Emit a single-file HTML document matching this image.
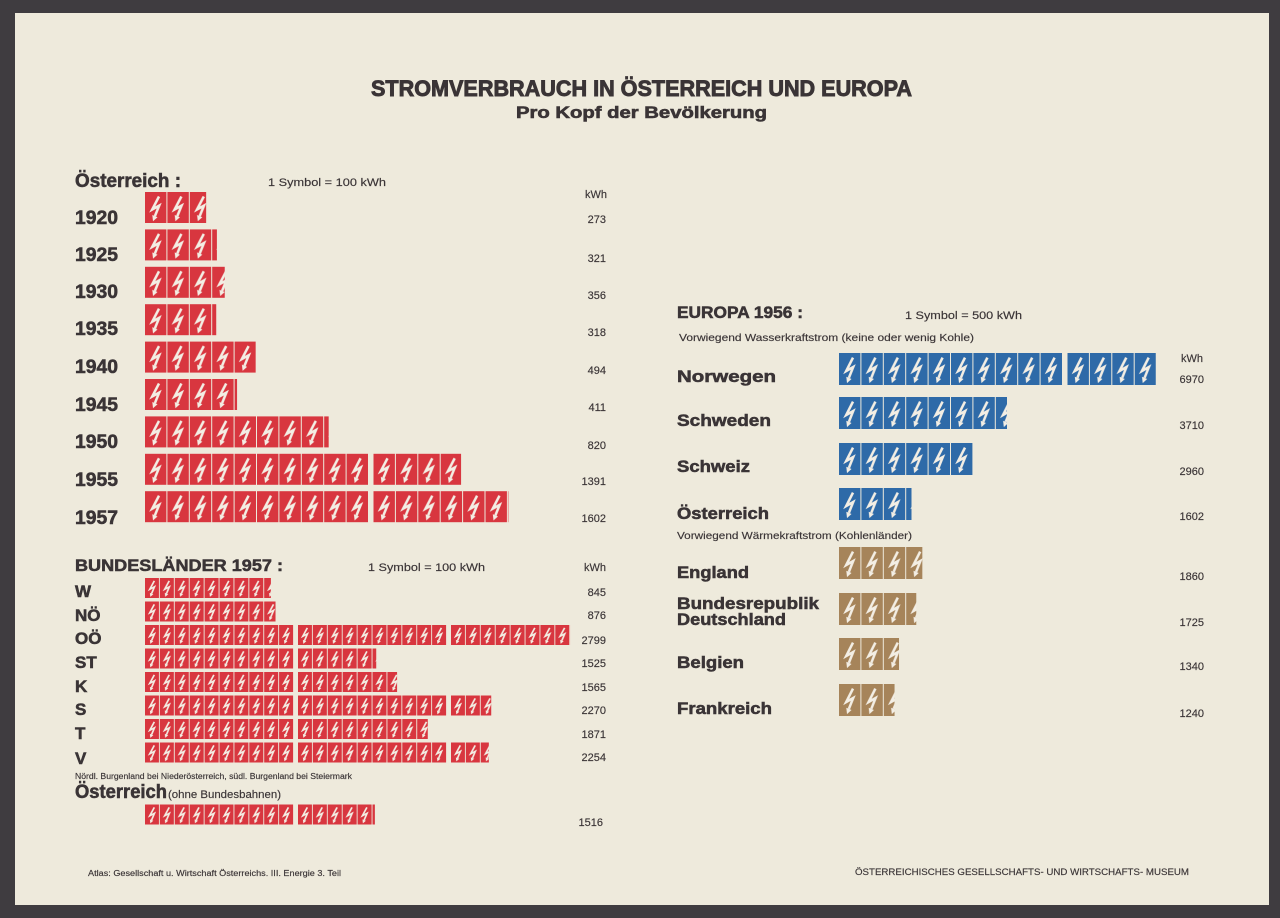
<!DOCTYPE html>
<html>
<head>
<meta charset="utf-8">
<style>
  html,body{margin:0;padding:0;background:#3f3c40;}
  svg{display:block;}
  text{font-family:"Liberation Sans",Arial,sans-serif;fill:#3a3436;}
  .b{font-weight:bold;stroke:#3a3436;stroke-width:0.55;}
  .n{stroke:#3a3436;stroke-width:0.15;}
</style>
</head>
<body>
<svg width="1280" height="918" viewBox="0 0 1280 918" xmlns="http://www.w3.org/2000/svg">
  <defs>
    <g id="bolt">
      <path d="M14,4.5 L7.2,17.5 L14.2,13.6 L9.9,24.1" fill="none" stroke="#f3eee4" stroke-width="2.5" stroke-linejoin="miter" stroke-linecap="butt"/>
      <polygon points="8,29.2 7.3,23 12.5,25.2" fill="#f3eee4"/>
    </g>
    <pattern id="pr" x="0" y="0" width="22.4" height="31" patternUnits="userSpaceOnUse">
      <rect width="21.4" height="31" fill="#d8363f"/>
      <use href="#bolt"/>
    </pattern>
    <pattern id="ps" x="0" y="0" width="14.9" height="20" patternUnits="userSpaceOnUse">
      <rect width="14" height="20" fill="#d8363f"/>
      <use href="#bolt" transform="scale(0.665,0.645)"/>
    </pattern>
    <pattern id="pb" x="0" y="0" width="22.4" height="32" patternUnits="userSpaceOnUse">
      <rect width="21.4" height="32" fill="#2e6aa8"/>
      <use href="#bolt" transform="scale(1,1.03)"/>
    </pattern>
    <pattern id="pn" x="0" y="0" width="22.4" height="32" patternUnits="userSpaceOnUse">
      <rect width="21.4" height="32" fill="#a6845a"/>
      <use href="#bolt" transform="scale(1,1.03)"/>
    </pattern>
  </defs>

  <!-- paper -->
  <rect x="0" y="0" width="1280" height="918" fill="#3f3c40"/>
  <rect x="15" y="13" width="1254" height="892" fill="#eeeadc"/>

  <!-- Title -->
  <text class="b" x="371" y="96" font-size="22" textLength="541" lengthAdjust="spacingAndGlyphs" style="stroke-width:0.9">STROMVERBRAUCH IN ÖSTERREICH UND EUROPA</text>
  <text class="b" x="516" y="118" font-size="16.5" textLength="251" lengthAdjust="spacingAndGlyphs" style="stroke-width:0.6">Pro Kopf der Bevölkerung</text>

  <!-- ===== Österreich ===== -->
  <text class="b" x="75" y="187" font-size="19" textLength="106" lengthAdjust="spacingAndGlyphs">Österreich :</text>
  <text class="n" x="268" y="186" font-size="11" textLength="118" lengthAdjust="spacingAndGlyphs">1 Symbol = 100 kWh</text>
  <text class="n" x="607" y="198" font-size="11" text-anchor="end">kWh</text>

  <g font-size="19">
    <text class="b" x="75" y="224" textLength="43" lengthAdjust="spacingAndGlyphs">1920</text>
    <text class="b" x="75" y="261" textLength="43" lengthAdjust="spacingAndGlyphs">1925</text>
    <text class="b" x="75" y="298" textLength="43" lengthAdjust="spacingAndGlyphs">1930</text>
    <text class="b" x="75" y="335" textLength="43" lengthAdjust="spacingAndGlyphs">1935</text>
    <text class="b" x="75" y="373" textLength="43" lengthAdjust="spacingAndGlyphs">1940</text>
    <text class="b" x="75" y="411" textLength="43" lengthAdjust="spacingAndGlyphs">1945</text>
    <text class="b" x="75" y="448" textLength="43" lengthAdjust="spacingAndGlyphs">1950</text>
    <text class="b" x="75" y="486" textLength="43" lengthAdjust="spacingAndGlyphs">1955</text>
    <text class="b" x="75" y="524" textLength="43" lengthAdjust="spacingAndGlyphs">1957</text>
  </g>

  <g transform="translate(145,192)"><rect width="61.15" height="31" fill="url(#pr)"/></g>
  <g transform="translate(145,229.4)"><rect width="71.9" height="31" fill="url(#pr)"/></g>
  <g transform="translate(145,266.8)"><rect width="79.74" height="31" fill="url(#pr)"/></g>
  <g transform="translate(145,304.2)"><rect width="71.23" height="31" fill="url(#pr)"/></g>
  <g transform="translate(145,341.6)"><rect width="110.66" height="31" fill="url(#pr)"/></g>
  <g transform="translate(145,379)"><rect width="92.06" height="31" fill="url(#pr)"/></g>
  <g transform="translate(145,416.4)"><rect width="183.68" height="31" fill="url(#pr)"/></g>
  <g transform="translate(145,453.8)"><rect width="224" height="31" fill="url(#pr)"/></g>
  <g transform="translate(373.5,453.8)"><rect width="87.58" height="31" fill="url(#pr)"/></g>
  <g transform="translate(145,491.2)"><rect width="224" height="31" fill="url(#pr)"/></g>
  <g transform="translate(373.5,491.2)"><rect width="134.85" height="31" fill="url(#pr)"/></g>

  <g font-size="11" text-anchor="end">
    <text class="n" x="606" y="223">273</text>
    <text class="n" x="606" y="262">321</text>
    <text class="n" x="606" y="299">356</text>
    <text class="n" x="606" y="336">318</text>
    <text class="n" x="606" y="374">494</text>
    <text class="n" x="606" y="411">411</text>
    <text class="n" x="606" y="449">820</text>
    <text class="n" x="606" y="485">1391</text>
    <text class="n" x="606" y="522">1602</text>
  </g>

  <!-- ===== Bundesländer ===== -->
  <text class="b" x="75" y="571" font-size="17" textLength="208" lengthAdjust="spacingAndGlyphs">BUNDESLÄNDER 1957 :</text>
  <text class="n" x="368" y="571" font-size="11" textLength="117" lengthAdjust="spacingAndGlyphs">1 Symbol = 100 kWh</text>
  <text class="n" x="606" y="571" font-size="11" text-anchor="end">kWh</text>

  <g font-size="17">
    <text class="b" x="75" y="597">W</text>
    <text class="b" x="75" y="621">NÖ</text>
    <text class="b" x="75" y="644">OÖ</text>
    <text class="b" x="75" y="668">ST</text>
    <text class="b" x="75" y="692">K</text>
    <text class="b" x="75" y="715">S</text>
    <text class="b" x="75" y="739">T</text>
    <text class="b" x="75" y="764">V</text>
  </g>

  <g transform="translate(145,578)"><rect width="125.9" height="20" fill="url(#ps)"/></g>
  <g transform="translate(145,601.5)"><rect width="130.52" height="20" fill="url(#ps)"/></g>
  <g transform="translate(145,625)"><rect width="149" height="20" fill="url(#ps)"/></g>
  <g transform="translate(298,625)"><rect width="149" height="20" fill="url(#ps)"/></g>
  <g transform="translate(451,625)"><rect width="119.05" height="20" fill="url(#ps)"/></g>
  <g transform="translate(145,648.5)"><rect width="149" height="20" fill="url(#ps)"/></g>
  <g transform="translate(298,648.5)"><rect width="78.23" height="20" fill="url(#ps)"/></g>
  <g transform="translate(145,672)"><rect width="149" height="20" fill="url(#ps)"/></g>
  <g transform="translate(298,672)"><rect width="99.09" height="20" fill="url(#ps)"/></g>
  <g transform="translate(145,695.5)"><rect width="149" height="20" fill="url(#ps)"/></g>
  <g transform="translate(298,695.5)"><rect width="149" height="20" fill="url(#ps)"/></g>
  <g transform="translate(451,695.5)"><rect width="40.23" height="20" fill="url(#ps)"/></g>
  <g transform="translate(145,719)"><rect width="149" height="20" fill="url(#ps)"/></g>
  <g transform="translate(298,719)"><rect width="129.78" height="20" fill="url(#ps)"/></g>
  <g transform="translate(145,742.5)"><rect width="149" height="20" fill="url(#ps)"/></g>
  <g transform="translate(298,742.5)"><rect width="149" height="20" fill="url(#ps)"/></g>
  <g transform="translate(451,742.5)"><rect width="37.85" height="20" fill="url(#ps)"/></g>

  <g font-size="11" text-anchor="end">
    <text class="n" x="606" y="596">845</text>
    <text class="n" x="606" y="619">876</text>
    <text class="n" x="606" y="644">2799</text>
    <text class="n" x="606" y="667">1525</text>
    <text class="n" x="606" y="691">1565</text>
    <text class="n" x="606" y="714">2270</text>
    <text class="n" x="606" y="738">1871</text>
    <text class="n" x="606" y="761">2254</text>
  </g>

  <text class="n" x="75" y="779" font-size="8" textLength="277" lengthAdjust="spacingAndGlyphs">Nördl. Burgenland bei Niederösterreich, südl. Burgenland bei Steiermark</text>
  <text class="b" x="75" y="798" font-size="19" textLength="92" lengthAdjust="spacingAndGlyphs">Österreich</text>
  <text class="n" x="168" y="798" font-size="11" textLength="113" lengthAdjust="spacingAndGlyphs">(ohne Bundesbahnen)</text>
  <g transform="translate(145,804.5)"><rect width="149" height="20" fill="url(#ps)"/></g>
  <g transform="translate(298,804.5)"><rect width="76.88" height="20" fill="url(#ps)"/></g>
  <text class="n" x="603" y="826" font-size="11" text-anchor="end">1516</text>

  <!-- ===== Europa ===== -->
  <text class="b" x="677" y="318" font-size="17" textLength="126" lengthAdjust="spacingAndGlyphs">EUROPA 1956 :</text>
  <text class="n" x="905" y="319" font-size="11" textLength="117" lengthAdjust="spacingAndGlyphs">1 Symbol = 500 kWh</text>
  <text class="n" x="679" y="341" font-size="10.5" textLength="295" lengthAdjust="spacingAndGlyphs">Vorwiegend Wasserkraftstrom (keine oder wenig Kohle)</text>
  <text class="n" x="1203" y="362" font-size="11" text-anchor="end">kWh</text>

  <g font-size="17">
    <text class="b" x="677" y="382" textLength="99" lengthAdjust="spacingAndGlyphs">Norwegen</text>
    <text class="b" x="677" y="426" textLength="94" lengthAdjust="spacingAndGlyphs">Schweden</text>
    <text class="b" x="677" y="472" textLength="73" lengthAdjust="spacingAndGlyphs">Schweiz</text>
    <text class="b" x="677" y="519" textLength="92" lengthAdjust="spacingAndGlyphs">Österreich</text>
    <text class="b" x="677" y="578" textLength="72" lengthAdjust="spacingAndGlyphs">England</text>
    <text class="b" x="677" y="609" textLength="142" lengthAdjust="spacingAndGlyphs">Bundesrepublik</text>
    <text class="b" x="677" y="625" textLength="109" lengthAdjust="spacingAndGlyphs">Deutschland</text>
    <text class="b" x="677" y="668" textLength="67" lengthAdjust="spacingAndGlyphs">Belgien</text>
    <text class="b" x="677" y="714" textLength="95" lengthAdjust="spacingAndGlyphs">Frankreich</text>
  </g>
  <text class="n" x="677" y="539" font-size="10.5" textLength="235" lengthAdjust="spacingAndGlyphs">Vorwiegend Wärmekraftstrom (Kohlenländer)</text>

  <g transform="translate(839,353)"><rect width="224" height="32" fill="url(#pb)"/></g>
  <g transform="translate(1067.5,353)"><rect width="88.26" height="32" fill="url(#pb)"/></g>
  <g transform="translate(839,397)"><rect width="168" height="32" fill="url(#pb)"/></g>
  <g transform="translate(839,443)"><rect width="133.5" height="32" fill="url(#pb)"/></g>
  <g transform="translate(839,488)"><rect width="72.5" height="32" fill="url(#pb)"/></g>
  <g transform="translate(839,547)"><rect width="83.33" height="32" fill="url(#pn)"/></g>
  <g transform="translate(839,593)"><rect width="77.28" height="32" fill="url(#pn)"/></g>
  <g transform="translate(839,638)"><rect width="60.03" height="32" fill="url(#pn)"/></g>
  <g transform="translate(839,684)"><rect width="55.55" height="32" fill="url(#pn)"/></g>

  <g font-size="11" text-anchor="end">
    <text class="n" x="1204" y="383">6970</text>
    <text class="n" x="1204" y="429">3710</text>
    <text class="n" x="1204" y="475">2960</text>
    <text class="n" x="1204" y="520">1602</text>
    <text class="n" x="1204" y="580">1860</text>
    <text class="n" x="1204" y="626">1725</text>
    <text class="n" x="1204" y="670">1340</text>
    <text class="n" x="1204" y="717">1240</text>
  </g>

  <!-- Footer -->
  <text class="n" x="88" y="876" font-size="8" textLength="253" lengthAdjust="spacingAndGlyphs">Atlas:  Gesellschaft u. Wirtschaft Österreichs.  III. Energie  3. Teil</text>
  <text class="n" x="855" y="875" font-size="9.5" textLength="334" lengthAdjust="spacingAndGlyphs">ÖSTERREICHISCHES  GESELLSCHAFTS- UND  WIRTSCHAFTS-  MUSEUM</text>
</svg>
</body>
</html>
